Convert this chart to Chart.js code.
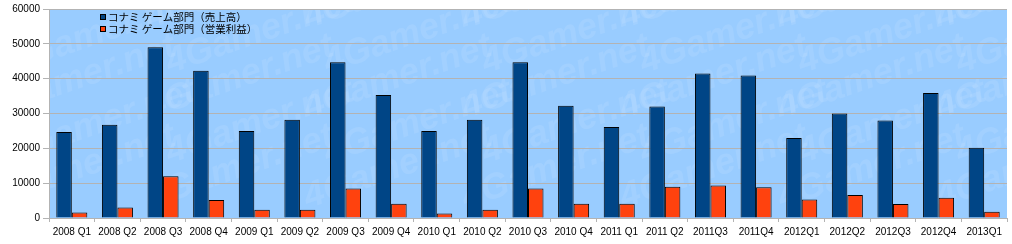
<!DOCTYPE html>
<html lang="ja">
  <head>
    <meta charset="UTF-8" />
    <title>コナミ ゲーム部門</title>
    <script src="https://cdn.jsdelivr.net/npm/chart.js@4.4.1/dist/chart.umd.min.js"></script>
    <style>
      html, body {
        margin: 0;
        padding: 0;
        background: #ffffff;
      }
      #chartContainer {
        width: 1012px;
        height: 244px;
      }
    </style>
  </head>
  <body>
    <div id="chartContainer">
      <canvas id="konamiChart"></canvas>
    </div>

    <script>
      const quarters = [
        '2008 Q1', '2008 Q2', '2008 Q3', '2008 Q4',
        '2009 Q1', '2009 Q2', '2009 Q3', '2009 Q4',
        '2010 Q1', '2010 Q2', '2010 Q3', '2010 Q4',
        '2011 Q1', '2011 Q2', '2011Q3', '2011Q4',
        '2012Q1', '2012Q2', '2012Q3', '2012Q4',
        '2013Q1'
      ];
      const salesLabel = 'コナミ ゲーム部門（売上高）';
      const profitLabel = 'コナミ ゲーム部門（営業利益）';
      const sales = [
        24700, 26800, 49000, 42300,
        25000, 28200, 44700, 35300,
        25000, 28200, 44700, 32200,
        26100, 32000, 41500, 40900,
        23000, 30000, 28000, 35900,
        20200
      ];
      const profit = [
        1600, 3000, 12000, 5200,
        2400, 2400, 8500, 4100,
        1300, 2400, 8500, 4100,
        4100, 9000, 9300, 8800,
        5300, 6600, 4000, 5800,
        1800
      ];
      const yTicks = [0, 10000, 20000, 30000, 40000, 50000, 60000];

      // light blue plot area with the faint site watermark
      const plotBackground = {
        id: 'plotBackground',
        beforeDraw(chart) {
          const { ctx, chartArea: a } = chart;
          ctx.save();
          ctx.fillStyle = '#99ccff';
          ctx.fillRect(a.left, a.top, a.right - a.left, a.bottom - a.top);
          ctx.beginPath();
          ctx.rect(a.left, a.top, a.right - a.left, a.bottom - a.top);
          ctx.clip();
          ctx.font = 'italic bold 36px "Liberation Sans", Arial, sans-serif';
          ctx.fillStyle = 'rgba(255,255,255,0.09)';
          ctx.textBaseline = 'middle';
          for (let row = 0; row < 5; row++) {
            for (let col = 0; col < 7; col++) {
              const x = a.left - 60 + col * 158 + (row % 2) * 20;
              const y = a.top + 10 + row * 45;
              ctx.save();
              ctx.translate(x, y);
              ctx.rotate(-0.33);
              ctx.fillText('4Gamer.net', 0, 0);
              ctx.restore();
            }
          }
          ctx.restore();
        }
      };

      // legend drawn inside the plot, top left
      const innerLegend = {
        id: 'innerLegend',
        afterDraw(chart) {
          const { ctx } = chart;
          ctx.save();
          ctx.font = '10.5px "Noto Sans CJK JP", sans-serif';
          ctx.textBaseline = 'middle';
          chart.data.datasets.forEach((ds, i) => {
            const y = 17 + i * 12;
            ctx.fillStyle = ds.backgroundColor;
            ctx.fillRect(100, y - 3, 6, 6);
            ctx.strokeStyle = '#000000';
            ctx.lineWidth = 1;
            ctx.strokeRect(100.5, y - 2.5, 5, 5);
            ctx.fillStyle = '#000000';
            ctx.fillText(ds.label, 108, y);
          });
          ctx.restore();
        }
      };

      const ctx = document.getElementById('konamiChart').getContext('2d');
      new Chart(ctx, {
        type: 'bar',
        data: {
          labels: quarters,
          datasets: [
            {
              label: salesLabel,
              data: sales,
              backgroundColor: '#004586',
              borderColor: '#000000',
              borderWidth: 1,
            },
            {
              label: profitLabel,
              data: profit,
              backgroundColor: '#ff420e',
              borderColor: '#000000',
              borderWidth: 1,
            },
          ],
        },
        options: {
          responsive: true,
          maintainAspectRatio: false,
          animation: false,
          layout: {
            padding: { left: 0, top: 8, right: 5, bottom: 0 },
          },
          datasets: {
            bar: {
              categoryPercentage: 0.68,
              barPercentage: 1.0,
            },
          },
          plugins: {
            legend: { display: false },
            tooltip: { enabled: false },
          },
          scales: {
            x: {
              offset: true,
              grid: {
                offset: true,
                drawOnChartArea: false,
                color: '#b3b3b3',
                tickLength: 4,
              },
              border: { color: '#b3b3b3' },
              ticks: {
                color: '#000000',
                padding: 4,
                maxRotation: 0,
                autoSkip: false,
                font: { family: '"Liberation Sans", Arial, sans-serif', size: 10 },
              },
              afterFit(scale) {
                scale.height = 26;
              },
            },
            y: {
              min: 0,
              max: 60000,
              afterBuildTicks(scale) {
                scale.ticks = yTicks.map((v) => ({ value: v }));
              },
              grid: {
                color: '#b3b3b3',
                tickLength: 6,
              },
              border: { color: '#b3b3b3' },
              ticks: {
                color: '#000000',
                padding: 3,
                callback: (v) => String(v),
                font: { family: '"Liberation Sans", Arial, sans-serif', size: 10 },
              },
              afterFit(scale) {
                scale.width = 49;
              },
            },
          },
        },
        plugins: [plotBackground, innerLegend],
      });
    </script>
  </body>
</html>
